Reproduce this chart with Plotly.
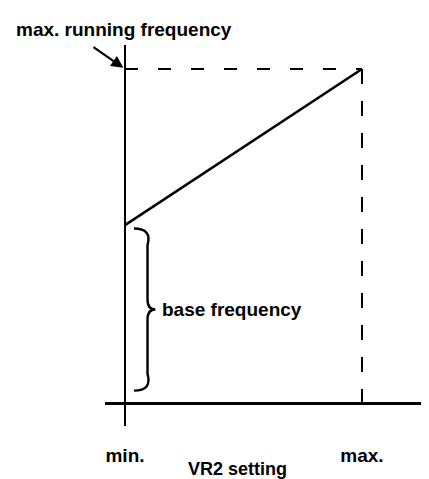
import plotly.graph_objects as go

# VR2 setting (min -> max) and resulting running frequency (normalised)
vr2_setting = [0.0, 1.0]
setting_labels = ["min.", "max."]
base_freq = 0.534
max_freq = 1.0
run_freq = [base_freq, max_freq]

black = "#000000"
font = dict(family="Liberation Sans, Arial, sans-serif", size=19, color=black, weight="bold")

fig = go.Figure()

# solid characteristic line
fig.add_trace(go.Scatter(
    x=vr2_setting, y=run_freq, mode="lines",
    line=dict(color=black, width=2.5), hoverinfo="skip"))

# dashed guide lines to the max point
fig.add_trace(go.Scatter(
    x=[vr2_setting[0], vr2_setting[1]], y=[max_freq, max_freq], mode="lines",
    line=dict(color=black, width=2, dash="13px,20px"), hoverinfo="skip"))
fig.add_trace(go.Scatter(
    x=[vr2_setting[1], vr2_setting[1]], y=[max_freq, 0], mode="lines",
    line=dict(color=black, width=2, dash="15px,17px"), hoverinfo="skip"))

# curly brace for base frequency
y_top = base_freq - 0.01
y_bot = 0.04
y_mid = (y_top + y_bot) / 2
x0, x1, x2, x3 = 0.038, 0.095, 0.115, 0.128
brace = (f"M {x0},{y_top} Q {x2},{y_top} {x1},{y_top - 0.05} "
         f"L {x1},{y_mid + 0.03} Q {x1},{y_mid} {x3},{y_mid} "
         f"Q {x1},{y_mid} {x1},{y_mid - 0.03} "
         f"L {x1},{y_bot + 0.05} Q {x2},{y_bot} {x0},{y_bot}")
fig.add_shape(type="path", path=brace, xref="x", yref="y",
              line=dict(color=black, width=2.4))

fig.add_annotation(x=x3 + 0.02, y=y_mid, xref="x", yref="y", text="base frequency",
                   showarrow=False, xanchor="left", yanchor="middle", font=font)

# arrow to max running frequency
fig.add_annotation(x=vr2_setting[0], y=max_freq, xref="x", yref="y", text="",
                   showarrow=True, ax=-33, ay=-23, arrowhead=2, arrowsize=1.1,
                   arrowwidth=2.2, arrowcolor=black, standoff=2)
fig.add_annotation(x=-0.274, y=1.0, xref="paper", yref="paper", text="max. running frequency",
                   showarrow=False, xanchor="left", yanchor="middle", yshift=37 - 21,
                   font=font)

# axis caption
fig.add_annotation(x=0.5, y=0, xref="x", yref="paper", text="VR2 setting",
                   showarrow=False, xanchor="center", yanchor="middle",
                   xshift=-6, yshift=-43, font=dict(font, size=18))

fig.update_xaxes(range=[-0.0844, 1.3165], showgrid=False, showline=False,
                 zeroline=True, zerolinecolor=black, zerolinewidth=2.2,
                 tickvals=vr2_setting, ticktext=setting_labels, ticks="outside",
                 ticklen=12, tickcolor="rgba(0,0,0,0)", tickfont=font)
fig.update_yaxes(range=[-0.0657, 1.0716], showgrid=False, showline=False,
                 zeroline=True, zerolinecolor=black, zerolinewidth=2.8,
                 showticklabels=False)

fig.update_layout(
    width=429, height=479,
    margin=dict(l=97, r=0, t=37, b=61),
    plot_bgcolor="white", paper_bgcolor="white",
    showlegend=False)

fig.write_html("out.html")
